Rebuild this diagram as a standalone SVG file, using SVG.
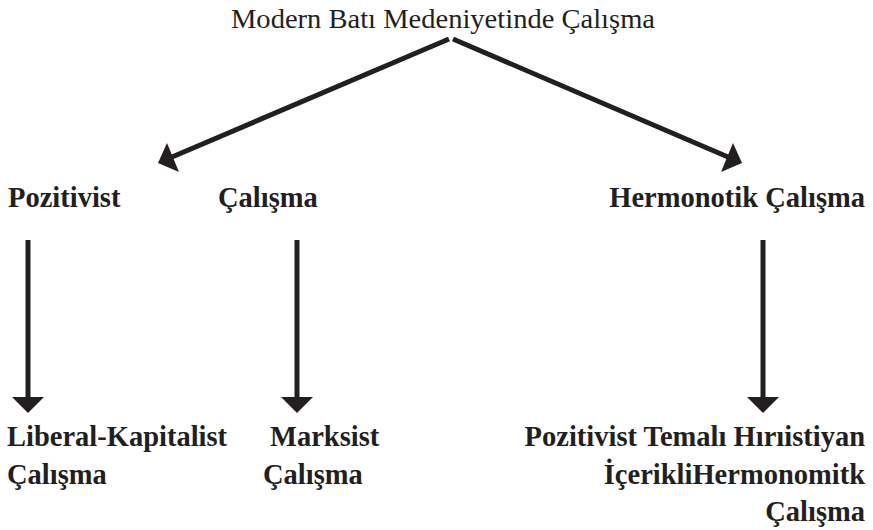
<svg xmlns="http://www.w3.org/2000/svg" width="873" height="530" viewBox="0 0 873 530">
<style>
.t{font-family:"Liberation Serif","Times New Roman",serif;fill:#231f20}
.b{font-weight:700;font-size:28.5px}
.title{font-size:27px}
.ln{stroke:#231f20;stroke-width:5;fill:none}
.hd{fill:#231f20}
</style>
<rect width="873" height="530" fill="#fff"/>
<g id="connectors">
<line class="ln" x1="449" y1="39" x2="172" y2="157"/>
<polygon class="hd" points="158,163 167,143 179,172"/>
<line class="ln" x1="453" y1="39" x2="728" y2="157"/>
<polygon class="hd" points="742,163 733,143 721,172"/>
<line class="ln" x1="28" y1="240" x2="28" y2="399"/>
<polygon class="hd" points="12,397 44,397 28,413"/>
<line class="ln" x1="297" y1="240" x2="297" y2="399"/>
<polygon class="hd" points="281,397 313,397 297,413"/>
<line class="ln" x1="763" y1="240" x2="763" y2="399"/>
<polygon class="hd" points="747,397 779,397 763,413"/>
</g>
<g id="n-root"><text class="t title" x="231" y="28" textLength="424" lengthAdjust="spacingAndGlyphs">Modern Batı Medeniyetinde Çalışma</text></g>
<g id="n-pozitivist"><text class="t b" x="8" y="207">Pozitivist</text></g>
<g id="n-calisma"><text class="t b" x="218" y="207">Çalışma</text></g>
<g id="n-hermonotik"><text class="t b" x="865" y="207" text-anchor="end">Hermonotik Çalışma</text></g>
<g id="n-liberal"><text class="t b" x="7" y="446">Liberal-Kapitalist</text><text class="t b" x="7" y="484">Çalışma</text></g>
<g id="n-marksist"><text class="t b" x="270" y="446">Marksist</text><text class="t b" x="263" y="484">Çalışma</text></g>
<g id="n-hristiyan"><text class="t b" x="865" y="446" text-anchor="end">Pozitivist Temalı Hırıistiyan</text><text class="t b" x="865" y="484" text-anchor="end">İçerikliHermonomitk</text><text class="t b" x="865" y="521" text-anchor="end">Çalışma</text></g>
</svg>
